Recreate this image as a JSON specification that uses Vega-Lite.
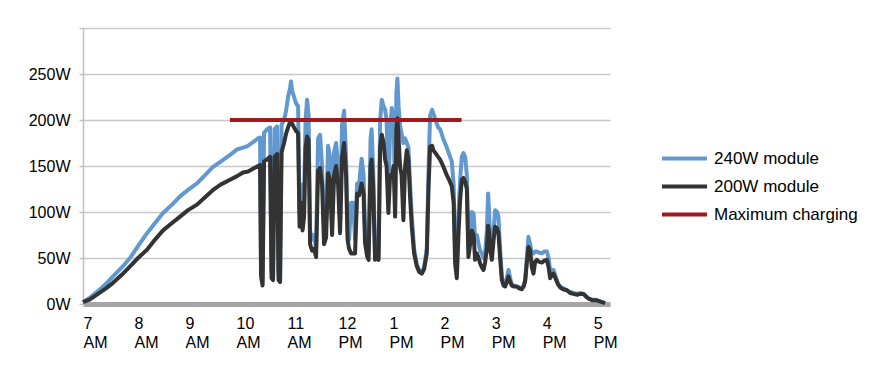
{
  "$schema": "https://vega.github.io/schema/vega-lite/v6.json",
  "width": 527,
  "height": 276,
  "autosize": {"type": "none"},
  "padding": {"left": 83, "top": 28, "right": 280, "bottom": 72},
  "config": {
    "font": "Liberation Sans",
    "view": {"stroke": null},
    "background": "white"
  },
  "datasets": {
    "m240": [
      {"t":7.000,"w":2},{"t":7.137,"w":7},{"t":7.294,"w":14},{"t":7.451,"w":22},{"t":7.588,"w":30},{"t":7.765,"w":40},{"t":7.922,"w":50},{"t":8.078,"w":63},{"t":8.255,"w":77},{"t":8.412,"w":88},{"t":8.569,"w":99},{"t":8.745,"w":108},{"t":8.902,"w":117},{"t":9.059,"w":124},{"t":9.235,"w":131},{"t":9.392,"w":140},{"t":9.549,"w":149},{"t":9.706,"w":155},{"t":9.882,"w":162},{"t":10.020,"w":168},{"t":10.137,"w":170},{"t":10.235,"w":172},{"t":10.333,"w":176},{"t":10.431,"w":180},{"t":10.471,"w":181},{"t":10.490,"w":40},{"t":10.520,"w":24},{"t":10.549,"w":186},{"t":10.608,"w":190},{"t":10.667,"w":192},{"t":10.696,"w":35},{"t":10.725,"w":30},{"t":10.755,"w":190},{"t":10.804,"w":193},{"t":10.833,"w":32},{"t":10.863,"w":28},{"t":10.892,"w":195},{"t":10.941,"w":200},{"t":10.980,"w":210},{"t":11.020,"w":225},{"t":11.059,"w":235},{"t":11.078,"w":242},{"t":11.098,"w":232},{"t":11.137,"w":225},{"t":11.176,"w":218},{"t":11.216,"w":215},{"t":11.245,"w":100},{"t":11.275,"w":130},{"t":11.304,"w":95},{"t":11.333,"w":110},{"t":11.363,"w":200},{"t":11.392,"w":222},{"t":11.422,"w":205},{"t":11.451,"w":80},{"t":11.490,"w":70},{"t":11.529,"w":75},{"t":11.569,"w":60},{"t":11.608,"w":180},{"t":11.647,"w":184},{"t":11.686,"w":150},{"t":11.725,"w":80},{"t":11.765,"w":90},{"t":11.804,"w":172},{"t":11.843,"w":160},{"t":11.882,"w":85},{"t":11.922,"w":165},{"t":11.961,"w":175},{"t":12.000,"w":150},{"t":12.039,"w":90},{"t":12.078,"w":195},{"t":12.118,"w":210},{"t":12.157,"w":160},{"t":12.186,"w":80},{"t":12.216,"w":70},{"t":12.255,"w":110},{"t":12.294,"w":110},{"t":12.333,"w":70},{"t":12.373,"w":131},{"t":12.412,"w":130},{"t":12.461,"w":158},{"t":12.500,"w":140},{"t":12.529,"w":75},{"t":12.569,"w":60},{"t":12.598,"w":55},{"t":12.637,"w":180},{"t":12.657,"w":190},{"t":12.686,"w":150},{"t":12.725,"w":55},{"t":12.765,"w":60},{"t":12.794,"w":55},{"t":12.824,"w":200},{"t":12.857,"w":222},{"t":12.892,"w":215},{"t":12.922,"w":211},{"t":12.951,"w":200},{"t":12.986,"w":120},{"t":13.020,"w":190},{"t":13.053,"w":213},{"t":13.088,"w":200},{"t":13.118,"w":110},{"t":13.143,"w":230},{"t":13.163,"w":245},{"t":13.186,"w":215},{"t":13.216,"w":193},{"t":13.245,"w":185},{"t":13.280,"w":175},{"t":13.314,"w":180},{"t":13.347,"w":175},{"t":13.378,"w":170},{"t":13.412,"w":130},{"t":13.445,"w":95},{"t":13.490,"w":60},{"t":13.543,"w":43},{"t":13.588,"w":37},{"t":13.641,"w":34},{"t":13.686,"w":40},{"t":13.739,"w":60},{"t":13.775,"w":150},{"t":13.804,"w":205},{"t":13.843,"w":211},{"t":13.869,"w":207},{"t":13.922,"w":198},{"t":13.961,"w":192},{"t":14.000,"w":190},{"t":14.059,"w":180},{"t":14.131,"w":170},{"t":14.176,"w":163},{"t":14.229,"w":155},{"t":14.265,"w":130},{"t":14.294,"w":60},{"t":14.327,"w":45},{"t":14.363,"w":100},{"t":14.392,"w":135},{"t":14.425,"w":160},{"t":14.457,"w":164},{"t":14.490,"w":160},{"t":14.524,"w":140},{"t":14.555,"w":60},{"t":14.588,"w":80},{"t":14.622,"w":100},{"t":14.657,"w":98},{"t":14.686,"w":70},{"t":14.720,"w":75},{"t":14.755,"w":65},{"t":14.784,"w":58},{"t":14.818,"w":55},{"t":14.849,"w":50},{"t":14.882,"w":55},{"t":14.916,"w":80},{"t":14.941,"w":120},{"t":14.961,"w":100},{"t":14.980,"w":70},{"t":15.014,"w":55},{"t":15.049,"w":80},{"t":15.078,"w":102},{"t":15.118,"w":100},{"t":15.143,"w":95},{"t":15.176,"w":60},{"t":15.210,"w":30},{"t":15.245,"w":22},{"t":15.275,"w":20},{"t":15.308,"w":28},{"t":15.339,"w":37},{"t":15.373,"w":28},{"t":15.406,"w":21},{"t":15.451,"w":20},{"t":15.504,"w":19},{"t":15.549,"w":18},{"t":15.602,"w":17},{"t":15.637,"w":20},{"t":15.667,"w":26},{"t":15.700,"w":50},{"t":15.731,"w":73},{"t":15.765,"w":65},{"t":15.798,"w":55},{"t":15.829,"w":55},{"t":15.863,"w":57},{"t":15.896,"w":57},{"t":15.931,"w":56},{"t":15.994,"w":55},{"t":16.039,"w":57},{"t":16.092,"w":57},{"t":16.127,"w":50},{"t":16.157,"w":35},{"t":16.190,"w":37},{"t":16.222,"w":37},{"t":16.275,"w":28},{"t":16.314,"w":22},{"t":16.353,"w":19},{"t":16.412,"w":17},{"t":16.484,"w":15},{"t":16.549,"w":13},{"t":16.614,"w":12},{"t":16.686,"w":11},{"t":16.745,"w":12},{"t":16.810,"w":11},{"t":16.863,"w":8},{"t":16.908,"w":6},{"t":16.980,"w":5},{"t":17.073,"w":4},{"t":17.171,"w":2},{"t":17.235,"w":1}
    ],
    "m200": [
      {"t":7.000,"w":2},{"t":7.137,"w":5},{"t":7.294,"w":11},{"t":7.451,"w":17},{"t":7.588,"w":23},{"t":7.765,"w":32},{"t":7.922,"w":41},{"t":8.078,"w":50},{"t":8.255,"w":59},{"t":8.412,"w":70},{"t":8.569,"w":80},{"t":8.745,"w":88},{"t":8.902,"w":95},{"t":9.059,"w":102},{"t":9.235,"w":108},{"t":9.392,"w":116},{"t":9.549,"w":124},{"t":9.706,"w":130},{"t":9.882,"w":135},{"t":10.020,"w":139},{"t":10.137,"w":143},{"t":10.235,"w":144},{"t":10.333,"w":147},{"t":10.431,"w":150},{"t":10.471,"w":151},{"t":10.490,"w":30},{"t":10.520,"w":20},{"t":10.549,"w":155},{"t":10.608,"w":157},{"t":10.667,"w":160},{"t":10.696,"w":28},{"t":10.725,"w":26},{"t":10.755,"w":160},{"t":10.804,"w":163},{"t":10.833,"w":26},{"t":10.863,"w":24},{"t":10.892,"w":165},{"t":10.941,"w":175},{"t":10.980,"w":185},{"t":11.020,"w":192},{"t":11.059,"w":198},{"t":11.078,"w":200},{"t":11.098,"w":196},{"t":11.137,"w":192},{"t":11.176,"w":188},{"t":11.216,"w":186},{"t":11.245,"w":84},{"t":11.275,"w":110},{"t":11.304,"w":80},{"t":11.333,"w":95},{"t":11.363,"w":170},{"t":11.392,"w":182},{"t":11.422,"w":178},{"t":11.451,"w":65},{"t":11.490,"w":58},{"t":11.529,"w":60},{"t":11.569,"w":51},{"t":11.608,"w":145},{"t":11.647,"w":148},{"t":11.686,"w":130},{"t":11.725,"w":65},{"t":11.765,"w":72},{"t":11.804,"w":142},{"t":11.843,"w":135},{"t":11.882,"w":75},{"t":11.922,"w":140},{"t":11.961,"w":150},{"t":12.000,"w":130},{"t":12.039,"w":77},{"t":12.078,"w":160},{"t":12.118,"w":175},{"t":12.157,"w":140},{"t":12.186,"w":70},{"t":12.216,"w":60},{"t":12.255,"w":55},{"t":12.294,"w":55},{"t":12.333,"w":55},{"t":12.373,"w":120},{"t":12.412,"w":118},{"t":12.461,"w":131},{"t":12.500,"w":120},{"t":12.529,"w":66},{"t":12.569,"w":52},{"t":12.598,"w":48},{"t":12.637,"w":150},{"t":12.657,"w":157},{"t":12.686,"w":130},{"t":12.725,"w":48},{"t":12.765,"w":50},{"t":12.794,"w":48},{"t":12.824,"w":170},{"t":12.857,"w":184},{"t":12.892,"w":175},{"t":12.922,"w":157},{"t":12.951,"w":150},{"t":12.986,"w":99},{"t":13.020,"w":140},{"t":13.053,"w":138},{"t":13.088,"w":150},{"t":13.118,"w":95},{"t":13.143,"w":190},{"t":13.163,"w":202},{"t":13.186,"w":180},{"t":13.216,"w":149},{"t":13.245,"w":140},{"t":13.280,"w":91},{"t":13.314,"w":150},{"t":13.347,"w":167},{"t":13.378,"w":157},{"t":13.412,"w":115},{"t":13.445,"w":84},{"t":13.490,"w":55},{"t":13.543,"w":41},{"t":13.588,"w":35},{"t":13.641,"w":33},{"t":13.686,"w":38},{"t":13.739,"w":55},{"t":13.775,"w":130},{"t":13.804,"w":171},{"t":13.843,"w":172},{"t":13.869,"w":167},{"t":13.922,"w":163},{"t":13.961,"w":160},{"t":14.000,"w":157},{"t":14.059,"w":150},{"t":14.131,"w":140},{"t":14.176,"w":135},{"t":14.229,"w":128},{"t":14.265,"w":110},{"t":14.294,"w":44},{"t":14.327,"w":28},{"t":14.363,"w":80},{"t":14.392,"w":113},{"t":14.425,"w":135},{"t":14.457,"w":137},{"t":14.490,"w":133},{"t":14.524,"w":125},{"t":14.555,"w":51},{"t":14.588,"w":65},{"t":14.622,"w":80},{"t":14.657,"w":75},{"t":14.686,"w":48},{"t":14.720,"w":55},{"t":14.755,"w":50},{"t":14.784,"w":44},{"t":14.818,"w":40},{"t":14.849,"w":37},{"t":14.882,"w":45},{"t":14.916,"w":60},{"t":14.941,"w":85},{"t":14.961,"w":77},{"t":14.980,"w":60},{"t":15.014,"w":48},{"t":15.049,"w":70},{"t":15.078,"w":84},{"t":15.118,"w":82},{"t":15.143,"w":77},{"t":15.176,"w":50},{"t":15.210,"w":26},{"t":15.245,"w":20},{"t":15.275,"w":19},{"t":15.308,"w":24},{"t":15.339,"w":30},{"t":15.373,"w":24},{"t":15.406,"w":20},{"t":15.451,"w":19},{"t":15.504,"w":19},{"t":15.549,"w":17},{"t":15.602,"w":16},{"t":15.637,"w":19},{"t":15.667,"w":25},{"t":15.700,"w":45},{"t":15.731,"w":62},{"t":15.765,"w":58},{"t":15.798,"w":40},{"t":15.829,"w":33},{"t":15.863,"w":46},{"t":15.896,"w":48},{"t":15.931,"w":46},{"t":15.994,"w":45},{"t":16.039,"w":47},{"t":16.092,"w":48},{"t":16.127,"w":40},{"t":16.157,"w":28},{"t":16.190,"w":32},{"t":16.222,"w":33},{"t":16.275,"w":26},{"t":16.314,"w":21},{"t":16.353,"w":18},{"t":16.412,"w":16},{"t":16.484,"w":15},{"t":16.549,"w":12},{"t":16.614,"w":11},{"t":16.686,"w":10},{"t":16.745,"w":11},{"t":16.810,"w":11},{"t":16.863,"w":8},{"t":16.908,"w":6},{"t":16.980,"w":4},{"t":17.073,"w":4},{"t":17.171,"w":2},{"t":17.235,"w":1}
    ],
    "maxc": [
      {"t":9.88,"w":200},{"t":14.42,"w":200}
    ]
  },
  "encoding": {
    "x": {
      "field": "t",
      "type": "quantitative",
      "scale": {"domain": [7, 17.33], "nice": false, "zero": false},
      "axis": {
        "title": null,
        "values": [7, 8, 9, 10, 11, 12, 13, 14, 15, 16, 17],
        "labelExpr": "[datum.value > 12 ? '' + (datum.value - 12) : '' + datum.value, datum.value >= 12 ? 'PM' : 'AM']",
        "labelAlign": "left",
        "labelBaseline": "top",
        "labelDx": -3,
        "labelPadding": 11,
        "labelFontSize": 16,
        "labelLineHeight": 19,
        "labelColor": "#000000",
        "labelOverlap": false,
        "labelFlush": false,
        "labelBound": false,
        "ticks": false,
        "grid": false,
        "domainColor": "#a6a6a6",
        "domainWidth": 5
      }
    },
    "y": {
      "field": "w",
      "type": "quantitative",
      "scale": {"domain": [0, 300], "nice": false},
      "axis": {
        "title": null,
        "values": [0, 50, 100, 150, 200, 250, 300],
        "labelExpr": "datum.value == 300 ? '' : datum.value + 'W'",
        "labelFontSize": 16,
        "labelColor": "#000000",
        "labelPadding": 9,
        "tickSize": 4,
        "tickColor": "#c0c0c0",
        "tickWidth": 1.5,
        "domainColor": "#c0c0c0",
        "domainWidth": 1.5,
        "gridColor": "#c8c8c8",
        "gridWidth": 1.5
      }
    },
    "color": {
      "field": "s",
      "type": "nominal",
      "scale": {
        "domain": ["240W module", "200W module", "Maximum charging"],
        "range": ["#6198d0", "#333333", "#a0191e"]
      },
      "legend": {
        "title": null,
        "orient": "none",
        "legendX": 592,
        "legendY": 121,
        "padding": 0,
        "symbolType": "M-3,0H3",
        "symbolSize": 225,
        "symbolStrokeWidth": 4,
        "labelFontSize": 17,
        "labelColor": "#000000",
        "labelOffset": 20,
        "rowPadding": 10
      }
    }
  },
  "layer": [
    {
      "data": {"name": "m240"},
      "transform": [{"calculate": "'240W module'", "as": "s"}],
      "mark": {"type": "line", "strokeWidth": 4, "strokeJoin": "round"}
    },
    {
      "data": {"name": "m200"},
      "transform": [{"calculate": "'200W module'", "as": "s"}],
      "mark": {"type": "line", "strokeWidth": 4, "strokeJoin": "round"}
    },
    {
      "data": {"name": "maxc"},
      "transform": [{"calculate": "'Maximum charging'", "as": "s"}],
      "mark": {"type": "line", "strokeWidth": 4}
    }
  ]
}
